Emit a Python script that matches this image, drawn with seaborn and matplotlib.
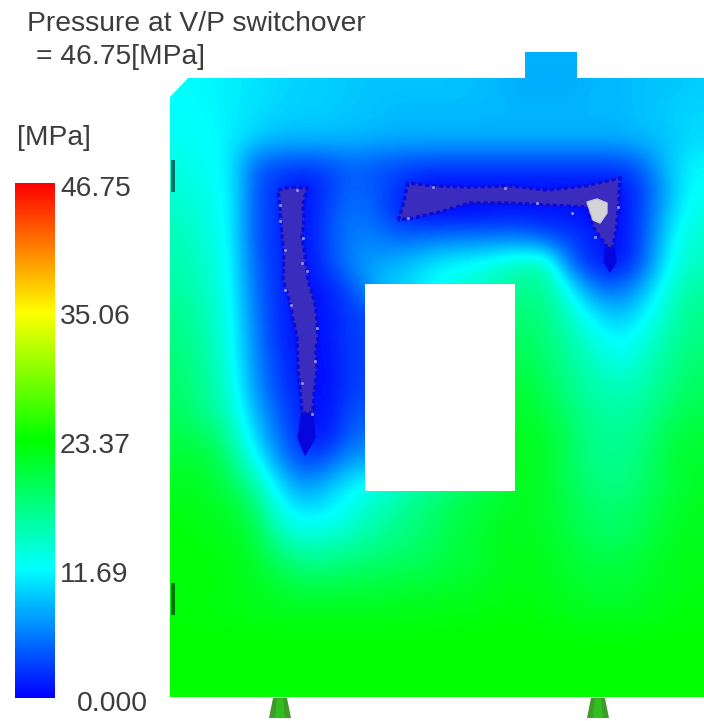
from __future__ import annotations

import matplotlib

matplotlib.use("Agg")
import matplotlib.pyplot as plt
import numpy as np
import seaborn as sns
from matplotlib.colors import LinearSegmentedColormap, Normalize
from matplotlib.patches import Polygon, Rectangle

# pressure [MPa], one list per row, top to bottom of the part
row_01 = [11.7, 11.5, 11, 10.5, 10, 9.7, 9.5, 9.3, 9, 9, 9, 9, 8.8, 8.5, 8, 8, 8, 8.5, 8.5, 9, 9, 9.5]
row_02 = [12, 11.7, 11, 10.3, 9.7, 9.5, 9.5, 9, 9, 8.5, 8.5, 8.5, 8.5, 8.5, 8.5, 8.5, 8.5, 8.5, 8.5, 9, 9.5, 10]
row_03 = [12.2, 12, 11, 9.5, 8.5, 8.5, 8.5, 8.5, 8, 8, 8, 8, 8, 8, 8, 8, 8, 8, 8, 8.5, 9, 10]
row_04 = [13, 12.3, 11, 4.5, 3.5, 3, 3.5, 4.5, 4, 3.5, 3, 3, 3, 3, 3, 3, 3, 3, 3, 5, 9, 11.5]
row_05 = [13.5, 12.5, 11.5, 4, 2, 0.5, 2.5, 5, 4, 2, 0.5, 0.5, 0.5, 0.5, 0.5, 0.5, 0.5, 0.5, 0.5, 3, 8, 12]
row_06 = [14.5, 13, 11.5, 4, 2, 0.5, 3.5, 5.5, 4.5, 1.5, 0.5, 0.5, 0.5, 1, 1, 1, 1, 0.5, 0.5, 3.5, 9, 13]
row_07 = [15, 13.5, 11.5, 4, 2, 0.5, 3.5, 6, 6, 5, 5.5, 6, 6, 6, 6, 4, 3, 1.5, 0.5, 3.5, 10.5, 14]
row_08 = [15.5, 14, 12, 4.5, 2, 0.5, 3, 6.5, 7.5, 8.5, 10, 11.5, 12, 13.5, 15, 15.5, 4.5, 1.5, 0.5, 4.5, 11.5, 14.5]
row_09 = [16, 14.5, 12, 5, 2, 0.5, 1.5, 3.5, 9, 10, 11.5, 13, 14, 15.5, 17, 16.5, 11.5, 5.5, 5, 8, 13.5, 16]
row_10 = [17, 15, 12.5, 5.5, 2, 0.5, 1, 3, 3, 5, 9, 13, 17, 18, 18, 17.5, 14, 10.5, 8.5, 11, 14.5, 17]
row_11 = [17.5, 15.5, 12.5, 6, 2, 0.5, 1, 3, 3, 5, 9, 13, 17, 19, 19, 18, 15.5, 13, 11, 13, 15.5, 17.5]
row_12 = [18, 16, 13, 6.5, 2.5, 1, 0.5, 3, 3, 5, 9, 13, 17, 20, 20, 18.5, 16.5, 14.5, 12.5, 14.5, 16.5, 18.5]
row_13 = [18.5, 16.5, 13.5, 7, 3, 1, 0.5, 3, 3, 5, 9, 13, 17, 21, 21, 19.5, 17, 15.5, 15, 15.5, 17.5, 19]
row_14 = [19, 17, 14.5, 8.5, 4, 1.5, 0.5, 4, 4, 5, 9, 13, 17, 21.5, 21.5, 20.5, 18, 16.5, 16, 16.5, 18.5, 20]
row_15 = [20, 19.5, 16, 10, 5, 1.5, 1, 5, 5, 6, 9, 13, 17, 22, 22, 21.5, 19, 17, 16.5, 17.5, 20, 21]
row_16 = [21, 21, 18, 12.5, 7, 3, 4.5, 7.5, 8, 9, 11, 14, 17, 22, 22, 21.5, 19, 17, 17, 18, 20.5, 21.5]
row_17 = [22, 21.5, 20, 16, 10.5, 7, 9, 11.5, 13, 15, 17, 18, 19.5, 20.5, 22, 21.5, 19.5, 18, 17.5, 18.5, 20.5, 21.5]
row_18 = [22.5, 22, 21.5, 19, 12.5, 10.5, 11, 13, 15, 16.5, 18, 19.5, 20.5, 21.5, 22, 21.5, 20, 18.5, 18.5, 19.5, 21, 22]
row_19 = [23, 22.5, 22, 20.5, 15.5, 13.5, 14, 15, 16.5, 17.5, 18.5, 20, 21, 22, 22, 21.5, 20.5, 19, 19, 20, 21.5, 22]
row_20 = [23, 23, 22.5, 21.5, 19, 17, 17, 18, 18.5, 19, 19.5, 20.5, 21, 22, 22.5, 22, 21, 20.5, 20.5, 21, 22, 22.5]
row_21 = [23, 23, 22.5, 22, 21, 20, 20, 20.5, 20.5, 21, 21, 21.5, 21.5, 22, 22.5, 22, 21.5, 21, 21, 21.5, 22, 22.5]
row_22 = [23, 22.8, 22.5, 22.3, 22, 22, 22, 22, 22, 22.2, 22.3, 22.5, 22.7, 23, 23, 22.8, 22, 21.8, 21.8, 22, 22.5, 23]
row_23 = [23.37, 23.3, 23.3, 23.3, 23.2, 23.2, 23.2, 23.2, 23.2, 23.2, 23.2, 23.3, 23.3, 23.37, 23.37, 23.3, 23.2, 23.2, 23.2, 23.2, 23.3, 23.37]
row_24 = [23.37] * 22
row_25 = [23.37] * 22
pressure = [
    row_01, row_02, row_03, row_04, row_05, row_06, row_07, row_08, row_09, row_10,
    row_11, row_12, row_13, row_14, row_15, row_16, row_17, row_18, row_19, row_20,
    row_21, row_22, row_23, row_24, row_25,
]

scale_values = [46.75, 35.06, 23.37, 11.69, 0.0]
scale_labels = ["46.75", "35.06", "23.37", "11.69", "0.000"]
max_pressure = 46.75
tab_pressure = 8.1

# outlines, in image pixels
unfilled_left = [(278, 190), (290, 187), (307, 188), (303, 205), (304, 220), (302, 237), (305, 255), (308, 280), (315, 303), (317, 320), (318, 337), (316, 350), (317, 370), (314, 395), (313, 413), (302, 413), (300, 390), (298, 370), (297, 337), (292, 315), (290, 303), (283, 280), (284, 255), (282, 237), (280, 210)]
tail_left = [(302, 411), (313, 411), (315, 438), (305, 455), (298, 438)]
unfilled_top = [(398, 220), (403, 205), (408, 183), (435, 186), (470, 187), (510, 186), (547, 190), (585, 186), (620, 178), (619, 200), (617, 225), (613, 247), (607, 247), (593, 227), (587, 207), (547, 205), (507, 203), (470, 203), (440, 212), (413, 218)]
tail_top = [(606, 245), (614, 245), (616, 262), (610, 272), (604, 262)]
air_spot = [(587, 202), (597, 199), (607, 203), (607, 213), (600, 223), (593, 220)]
speck_x = [297, 280, 280, 285, 303, 302, 307, 285, 291, 317, 315, 302, 312, 505, 408, 433, 537, 618, 572, 595]
speck_y = [190, 205, 221, 250, 238, 263, 271, 290, 305, 328, 361, 383, 414, 188, 218, 187, 203, 207, 213, 237]
gate_centers = [280, 598]

W, H = 704, 721
PART = (170, 78, 704, 697)
HOLE = (365, 284, 515, 491)
TAB = (525, 52, 577, 78)
BAR = (15, 183, 55, 698)


def px_axes(fig, box):
    x0, y0, x1, y1 = box
    return fig.add_axes([x0 / W, 1 - y1 / H, (x1 - x0) / W, (y1 - y0) / H])


sns.set_theme(style="white")
plt.rcParams["font.family"] = ["Liberation Sans", "DejaVu Sans"]
text_color = "#3c3c3c"
font_size = 20.3

rainbow = LinearSegmentedColormap.from_list(
    "flow", ["#0000ff", "#00ffff", "#00ff00", "#ffff00", "#ff0000"], N=256
)
norm = Normalize(0, max_pressure)

fig = plt.figure(figsize=(W / 100, H / 100), dpi=100, facecolor="white")
ax = px_axes(fig, PART)
cax = px_axes(fig, BAR)

data = np.array(pressure, dtype=float)
sns.heatmap(
    data,
    ax=ax,
    cbar_ax=cax,
    cmap=rainbow,
    vmin=0,
    vmax=max_pressure,
    xticklabels=False,
    yticklabels=False,
    cbar_kws={"ticks": []},
)
# the solver output is a smooth field, so soften the cells
nrows, ncols = data.shape
ax.imshow(
    data,
    cmap=rainbow,
    norm=norm,
    extent=(0, ncols, nrows, 0),
    aspect="auto",
    interpolation="bicubic",
    zorder=2,
)
ax.set_xlim(0, ncols)
ax.set_ylim(nrows, 0)
ax.patch.set_visible(False)
cax.collections[0].set_edgecolor("face")
for spine in cax.spines.values():
    spine.set_visible(False)

for value, label in zip(scale_values, scale_labels):
    x_off = 22 if label == "0.000" else 5
    cax.annotate(
        label,
        xy=(1, value),
        xycoords=("axes fraction", "data"),
        xytext=(x_off * 0.72, -4),
        textcoords="offset points",
        ha="left",
        va="center",
        fontsize=font_size,
        color=text_color,
        annotation_clip=False,
    )

# everything else is part geometry, drawn in image pixels on top
over = fig.add_axes([0, 0, 1, 1], facecolor="none")
over.set_xlim(0, W)
over.set_ylim(H, 0)
over.axis("off")

over.add_patch(Rectangle((HOLE[0], HOLE[1]), HOLE[2] - HOLE[0], HOLE[3] - HOLE[1], color="white", lw=0))
over.add_patch(Polygon([(168, 76), (190, 76), (170, 97), (168, 97)], color="white", lw=0))
over.add_patch(Rectangle((TAB[0], TAB[1]), TAB[2] - TAB[0], TAB[3] - TAB[1], color=rainbow(norm(tab_pressure)), lw=0))

for tail in (tail_left, tail_top):
    over.add_patch(Polygon(tail, facecolor="#0606dc", edgecolor="#0606dc", lw=1))
for shape in (unfilled_left, unfilled_top):
    over.add_patch(Polygon(shape, facecolor="#3a2cbc", edgecolor="#0c0cd8", lw=2.5, ls=(0, (1.2, 0.8))))
over.scatter(speck_x, speck_y, s=5, color="#8f8fe8", linewidths=0, zorder=3)
over.add_patch(Polygon(air_spot, facecolor="#d4d4d4", edgecolor="#c8c8e0", lw=1, zorder=4))

# side marks on the left wall
for y0 in (160, 583):
    over.add_patch(Rectangle((171, y0), 4, 32, color="black", alpha=0.55, lw=0))

# gates below the part
for gx in gate_centers:
    over.add_patch(Polygon([(gx - 7, 698), (gx + 7, 698), (gx + 11, 718), (gx - 11, 718)], color="#3f9a2a", lw=0))
    over.add_patch(Polygon([(gx - 3, 698), (gx + 3, 698), (gx + 5, 718), (gx - 5, 718)], color="#2fc020", lw=0))

over.text(27, 31, "Pressure at V/P switchover", fontsize=font_size, color=text_color, va="baseline")
over.text(36, 64, "= 46.75[MPa]", fontsize=font_size, color=text_color, va="baseline")
over.text(17, 145, "[MPa]", fontsize=font_size, color=text_color, va="baseline")

fig.savefig("out.png", dpi=100)
plt.close(fig)
